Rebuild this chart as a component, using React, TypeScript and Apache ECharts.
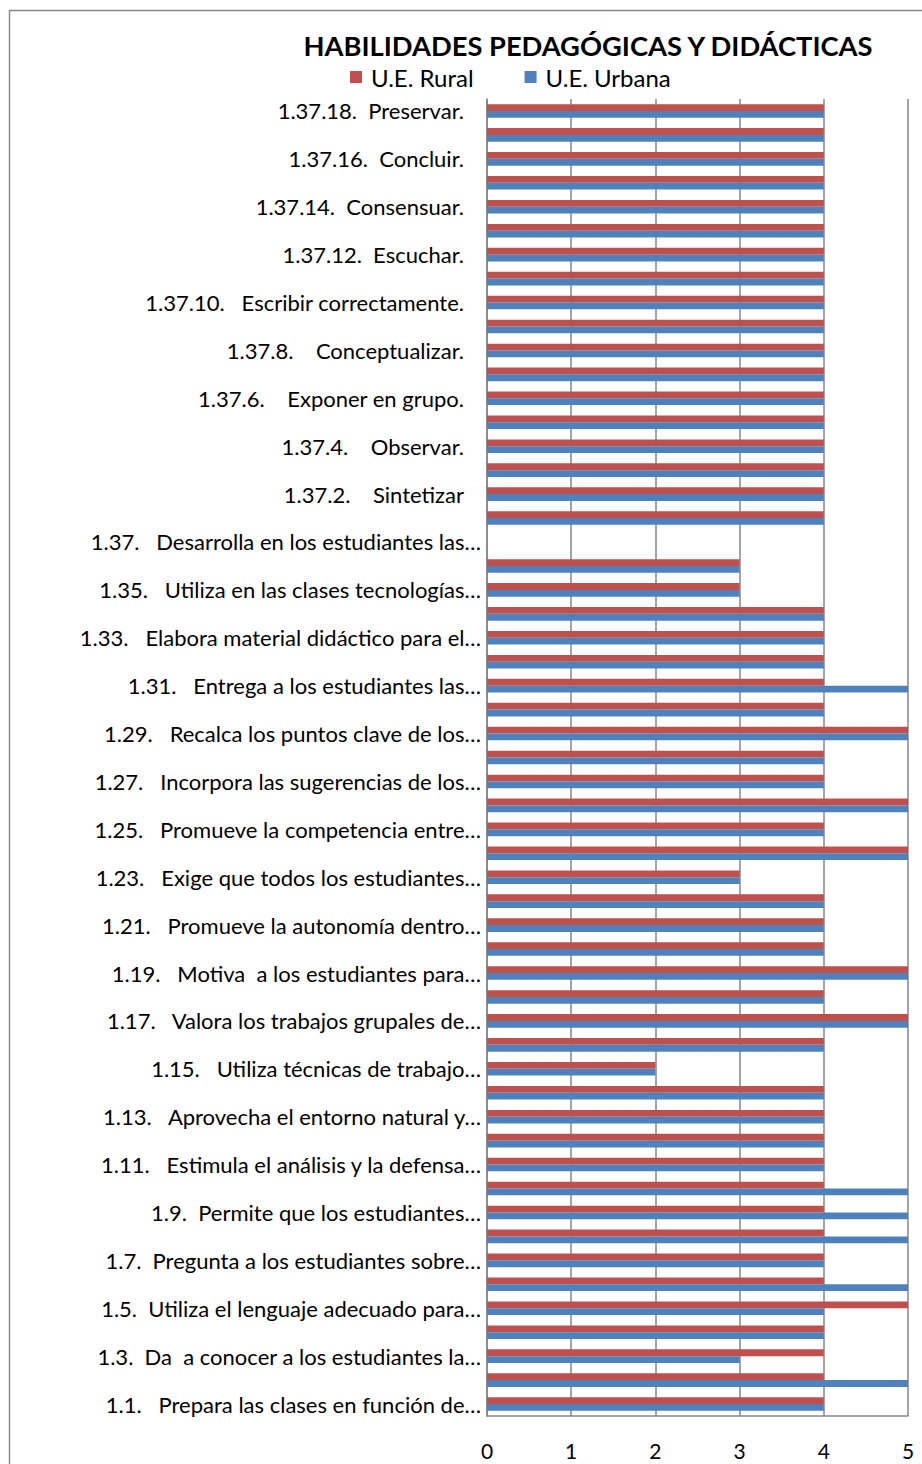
import React, { useEffect, useRef } from "react";
import * as echarts from "echarts";

const categories: string[] = [
  "1.1.   Prepara las clases en función de…",
  "1.2.",
  "1.3.  Da  a conocer a los estudiantes la…",
  "1.4.",
  "1.5.  Utiliza el lenguaje adecuado para…",
  "1.6.",
  "1.7.  Pregunta a los estudiantes sobre…",
  "1.8.",
  "1.9.  Permite que los estudiantes…",
  "1.10.",
  "1.11.   Estimula el análisis y la defensa…",
  "1.12.",
  "1.13.   Aprovecha el entorno natural y…",
  "1.14.",
  "1.15.   Utiliza técnicas de trabajo…",
  "1.16.",
  "1.17.   Valora los trabajos grupales de…",
  "1.18.",
  "1.19.   Motiva  a los estudiantes para…",
  "1.20.",
  "1.21.   Promueve la autonomía dentro…",
  "1.22.",
  "1.23.   Exige que todos los estudiantes…",
  "1.24.",
  "1.25.   Promueve la competencia entre…",
  "1.26.",
  "1.27.   Incorpora las sugerencias de los…",
  "1.28.",
  "1.29.   Recalca los puntos clave de los…",
  "1.30.",
  "1.31.   Entrega a los estudiantes las…",
  "1.32.",
  "1.33.   Elabora material didáctico para el…",
  "1.34.",
  "1.35.   Utiliza en las clases tecnologías…",
  "1.36.",
  "1.37.   Desarrolla en los estudiantes las…",
  "1.37.1.",
  "1.37.2.    Sintetizar",
  "1.37.3.",
  "1.37.4.    Observar.",
  "1.37.5.",
  "1.37.6.    Exponer en grupo.",
  "1.37.7.",
  "1.37.8.    Conceptualizar.",
  "1.37.9.",
  "1.37.10.   Escribir correctamente.",
  "1.37.11.",
  "1.37.12.  Escuchar.",
  "1.37.13.",
  "1.37.14.  Consensuar.",
  "1.37.15.",
  "1.37.16.  Concluir.",
  "1.37.17.",
  "1.37.18.  Preservar.",
];

const rural: (number | null)[] = [
  4, 4, 4, 4, 5, 4, 4, 4, 4, 4,
  4, 4, 4, 4, 2, 4, 5, 4, 5, 4,
  4, 4, 3, 5, 4, 5, 4, 4, 5, 4,
  4, 4, 4, 4, 3, 3, null,
  4, 4, 4, 4, 4, 4, 4, 4, 4, 4, 4, 4, 4, 4, 4, 4, 4, 4,
];

const urbana: (number | null)[] = [
  4, 5, 3, 4, 4, 5, 4, 5, 5, 5,
  4, 4, 4, 4, 2, 4, 5, 4, 5, 4,
  4, 4, 3, 5, 4, 5, 4, 4, 5, 4,
  5, 4, 4, 4, 3, 3, null,
  4, 4, 4, 4, 4, 4, 4, 4, 4, 4, 4, 4, 4, 4, 4, 4, 4, 4,
];

const xTicks = [0, 1, 2, 3, 4, 5];

const FONT = "Lato";
const LABEL_SIZE = 22;

export default function App() {
  const ref = useRef<HTMLDivElement>(null);
  useEffect(() => {
    if (!ref.current) return;
    const chart = echarts.init(ref.current, undefined, { renderer: "svg" });
    chart.setOption({
      animation: false,
      backgroundColor: "#ffffff",
      textStyle: { fontFamily: FONT },
      graphic: [
        {
          type: "rect",
          shape: { x: 9.5, y: 10.5, width: 1000, height: 2000 },
          style: { fill: "none", stroke: "#8a8a8a", lineWidth: 1.5 },
          silent: true,
        },
      ],
      title: {
        text: "HABILIDADES PEDAGÓGICAS Y DIDÁCTICAS",
        left: 583,
        top: 27,
        textAlign: "center",
        textStyle: {
          fontFamily: FONT,
          fontWeight: "bold",
          fontSize: 27.3,
          color: "#000000",
        },
      },
      legend: {
        data: ["U.E. Rural", "U.E. Urbana"],
        left: 345,
        top: 60,
        icon: "rect",
        itemWidth: 12,
        itemHeight: 12,
        itemGap: 51,
        textStyle: {
          fontFamily: FONT,
          fontSize: 24,
          color: "#000000",
          padding: [0, 0, 0, 4],
        },
      },
      grid: { left: 487, top: 99, width: 421, height: 1317, containLabel: false },
      xAxis: {
        type: "value",
        min: xTicks[0],
        max: xTicks[xTicks.length - 1],
        interval: 1,
        axisLine: { show: true, lineStyle: { color: "#868686", width: 1.5 } },
        axisTick: { show: false },
        splitLine: { show: true, lineStyle: { color: "#868686", width: 1.5 } },
        axisLabel: {
          fontFamily: FONT,
          fontSize: 21,
          color: "#000000",
          margin: 24,
        },
      },
      yAxis: {
        type: "category",
        data: categories,
        axisLine: { show: true, lineStyle: { color: "#868686", width: 1.5 } },
        axisTick: { show: false },
        splitLine: { show: false },
        axisLabel: {
          interval: 1,
          margin: 6,
          fontFamily: FONT,
          fontSize: LABEL_SIZE,
          color: "#000000",
          formatter: (v: string) => {
            const isSub = /^1\.37\.\d+\./.test(v);
            return isSub ? `{s|${v}}` : `{l|${v}}`;
          },
          rich: {
            s: { fontFamily: FONT, fontSize: LABEL_SIZE, color: "#000", padding: [0, 17, 0, 0] },
            l: { fontFamily: FONT, fontSize: LABEL_SIZE, color: "#000" },
          },
        },
      },
      series: [
        {
          name: "U.E. Rural",
          type: "bar",
          data: rural,
          barWidth: 6.8,
          barGap: "0%",
          itemStyle: { color: "#C0504D" },
        },
        {
          name: "U.E. Urbana",
          type: "bar",
          data: urbana,
          barWidth: 6.8,
          barGap: "0%",
          itemStyle: { color: "#4F81BD" },
        },
      ],
    });
    return () => chart.dispose();
  }, []);
  return (
    <div
      ref={ref}
      style={{ position: "absolute", left: 0, top: 0, width: 922, height: 1464 }}
    />
  );
}
